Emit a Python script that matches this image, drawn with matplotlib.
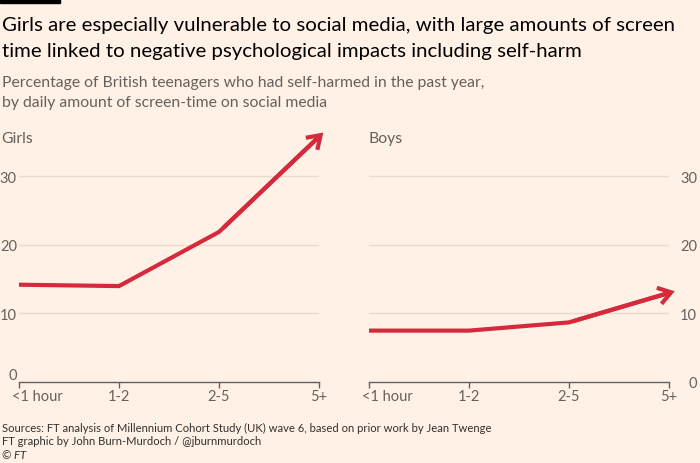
import numpy as np
import matplotlib
matplotlib.use('Agg')
import matplotlib.pyplot as plt
import matplotlib.transforms as mtransforms
from matplotlib.patches import FancyArrowPatch

# data
categories = ['<1 hour', '1-2', '2-5', '5+']
girls = [14.2, 14.0, 21.9, 35.8]
boys = [7.5, 7.5, 8.7, 13.0]
yticks = [0, 10, 20, 30]

BG = '#fff1e5'
RED = '#d52a3c'
GREY = '#66605c'
GRID = '#e8dcd1'

plt.rcParams['font.family'] = ['Lato', 'DejaVu Sans']

fig = plt.figure(figsize=(7, 4.64), dpi=100, facecolor=BG)
W, H = 700, 464


def px_axes(x0, x1, ybot, ytop):
    return fig.add_axes([x0 / W, 1 - ybot / H, (x1 - x0) / W, (ybot - ytop) / H])


def style_panel(ax, values, side):
    ax.set_facecolor('none')
    x = np.arange(len(categories))
    ax.set_xlim(0, 3)
    ax.set_ylim(0, 37)
    for s in ['top', 'left', 'right']:
        ax.spines[s].set_visible(False)
    ax.spines['bottom'].set_color(GREY)
    ax.spines['bottom'].set_linewidth(1)
    for v in yticks[1:]:
        ax.axhline(v, color=GRID, lw=1, zorder=0)
    ax.plot(x, values, color=RED, lw=3, solid_capstyle='butt',
            solid_joinstyle='miter', zorder=3, clip_on=False)
    # arrowhead along the last segment, pushed a few px past the last point
    p2 = ax.transData.transform((x[-2], values[-2]))
    p3 = ax.transData.transform((x[-1], values[-1]))
    u = (p3 - p2) / np.hypot(*(p3 - p2))
    shift = mtransforms.Affine2D().translate(u[0] * 6, u[1] * 6)
    arr = FancyArrowPatch((x[-2], values[-2]), (x[-1], values[-1]),
                          arrowstyle='->,head_length=9,head_width=6',
                          color=RED, lw=3, shrinkA=0, shrinkB=0,
                          joinstyle='miter', capstyle='butt',
                          transform=ax.transData + shift, zorder=4, clip_on=False)
    ax.add_patch(arr)
    ax.set_xticks(x)
    ax.set_xticklabels(categories, fontsize=10.5, color=GREY)
    ax.tick_params(axis='x', length=4, width=1, color=GREY, pad=1)
    lab0 = ax.get_xticklabels()[0]
    lab0.set_ha('left')
    lab0.set_transform(lab0.get_transform() +
                       mtransforms.ScaledTranslation(-7 / 100, 0, fig.dpi_scale_trans))
    ax.set_yticks(yticks)
    ax.set_yticklabels([str(v) for v in yticks], fontsize=10.5, color=GREY)
    if side == 'left':
        ax.tick_params(axis='y', length=0, pad=1.5)
        l0 = ax.get_yticklabels()[0]
        l0.set_transform(l0.get_transform() +
                         mtransforms.ScaledTranslation(0, 8 / 100, fig.dpi_scale_trans))
    else:
        ax.yaxis.tick_right()
        ax.tick_params(axis='y', length=0, pad=20.2)
        for l in ax.get_yticklabels():
            l.set_ha('right')


axl = px_axes(19, 319, 383, 129.5)
style_panel(axl, girls, 'left')
axr = px_axes(369, 669, 383, 129.5)
style_panel(axr, boys, 'right')

# header bar
fig.patches.append(plt.Rectangle((0, 1 - 4 / H), 60 / W, 4 / H, transform=fig.transFigure,
                                 color='black', zorder=5))

fig.text(2 / W, 1 - 25 / H, 'Girls are especially vulnerable to social media, with large amounts of screen',
         fontsize=14.7, color='black', va='center')
fig.text(2 / W, 1 - 51 / H, 'time linked to negative psychological impacts including self-harm',
         fontsize=14.7, color='black', va='center')
fig.text(2 / W, 1 - 83 / H, 'Percentage of British teenagers who had self-harmed in the past year,',
         fontsize=11.3, color=GREY, va='center')
fig.text(2 / W, 1 - 103 / H, 'by daily amount of screen-time on social media',
         fontsize=11.3, color=GREY, va='center')
fig.text(1 / W, 1 - 139 / H, 'Girls', fontsize=11.3, color=GREY, va='center')
fig.text(369 / W, 1 - 139 / H, 'Boys', fontsize=11.3, color=GREY, va='center')

fig.text(2 / W, 1 - 428 / H,
         'Sources: FT analysis of Millennium Cohort Study (UK) wave 6, based on prior work by Jean Twenge',
         fontsize=8.1, color='#33302e', va='center')
fig.text(2 / W, 1 - 442 / H, 'FT graphic by John Burn-Murdoch / @jburnmurdoch',
         fontsize=8.1, color='#33302e', va='center')
fig.text(2 / W, 1 - 456 / H, '\u00a9 FT', fontsize=8.1, color='#33302e', va='center',
         style='italic')

fig.savefig('out.png', dpi=100, facecolor=BG)
